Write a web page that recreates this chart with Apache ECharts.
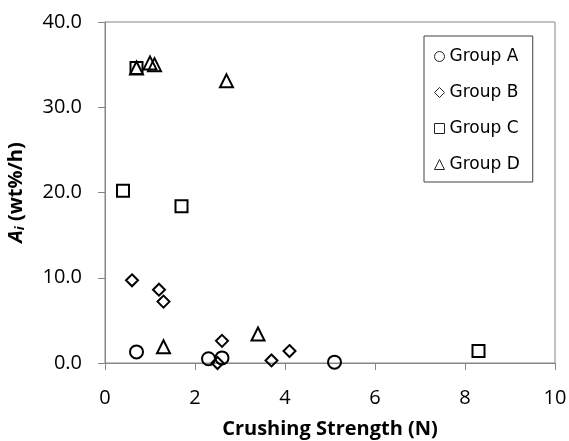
<!DOCTYPE html>
<html>
<head>
<meta charset="utf-8">
<script src="https://cdn.jsdelivr.net/npm/echarts@6/dist/echarts.min.js"></script>
<style>
  html, body { margin: 0; padding: 0; background: #fff; }
  #chart { width: 569px; height: 441px; }
</style>
</head>
<body>
<div id="chart"></div>
<script>
// Crushing strength (N) vs. A_i (wt%/h) for four sample groups
const groupNames = ['Group A', 'Group B', 'Group C', 'Group D'];
const groupSymbols = ['circle', 'diamond', 'rect', 'triangle'];

const groupA = [[0.7, 1.3], [2.3, 0.5], [2.6, 0.6], [5.1, 0.1]];
const groupB = [[0.6, 9.7], [1.2, 8.6], [1.3, 7.2], [2.6, 2.6], [2.5, 0.0], [3.7, 0.3], [4.1, 1.4]];
const groupC = [[0.4, 20.2], [1.7, 18.4], [0.7, 34.6], [8.3, 1.4]];
const groupD = [[0.7, 34.6], [1.0, 35.2], [1.1, 35.0], [2.7, 33.1], [1.3, 1.9], [3.4, 3.4]];

const xTicks = [0, 2, 4, 6, 8, 10];
const yTicks = [0, 10, 20, 30, 40];

const groupData = [groupA, groupB, groupC, groupD];
const symbolSizes = [13, 12, 12, 13];

const axisGray = '#868686';
const labelFont = 'Open Sans';

const chart = echarts.init(document.getElementById('chart'), null, { renderer: 'canvas' });

chart.setOption({
  animation: false,
  backgroundColor: '#ffffff',
  grid: {
    left: 105, right: 14, top: 22, bottom: 78,
    containLabel: false,
    outerBoundsMode: 'none',
    show: true, borderColor: axisGray, borderWidth: 1, backgroundColor: 'transparent'
  },
  legend: {
    orient: 'vertical',
    left: 424, top: 36,
    padding: [12, 13, 9, 10],
    itemGap: 19,
    itemWidth: 10, itemHeight: 10,
    itemTextGap: 9,
    borderColor: '#404040', borderWidth: 1,
    backgroundColor: '#fff',
    itemStyle: { color: 'transparent', borderColor: '#222', borderWidth: 1 },
    textStyle: { fontFamily: 'DejaVu Sans', fontSize: 17, color: '#000', lineHeight: 17 },
    data: groupNames.map((n, i) => ({ name: n, icon: groupSymbols[i] }))
  },
  xAxis: {
    type: 'value',
    min: xTicks[0], max: xTicks[xTicks.length - 1], interval: 2,
    name: 'Crushing Strength (N)',
    nameLocation: 'middle', nameGap: 56,
    nameTextStyle: { fontFamily: labelFont, fontWeight: 'bold', fontSize: 20, color: '#000' },
    axisLine: { show: true, lineStyle: { color: axisGray, width: 1 } },
    axisTick: { show: true, inside: false, length: 7, lineStyle: { color: axisGray } },
    axisLabel: { margin: 25, fontFamily: labelFont, fontSize: 20, color: '#000' },
    splitLine: { show: false }
  },
  yAxis: {
    type: 'value',
    min: yTicks[0], max: yTicks[yTicks.length - 1], interval: 10,
    name: '{a|A}{s|i}{t| (wt%/h)}',
    nameLocation: 'middle', nameGap: 78, nameRotate: 90,
    nameTextStyle: {
      color: '#000',
      rich: {
        a: { fontFamily: labelFont, fontWeight: 'bold', fontStyle: 'italic', fontSize: 20, color: '#000' },
        s: { fontFamily: labelFont, fontWeight: 'bold', fontStyle: 'italic', fontSize: 13, color: '#000', verticalAlign: 'bottom', padding: [9, 0, 0, 0] },
        t: { fontFamily: labelFont, fontWeight: 'bold', fontSize: 20, color: '#000' }
      }
    },
    axisLine: { show: true, lineStyle: { color: axisGray, width: 1 } },
    axisTick: { show: true, inside: false, length: 7, lineStyle: { color: axisGray } },
    axisLabel: { margin: 23, fontFamily: labelFont, fontSize: 20, color: '#000', formatter: v => v.toFixed(1) },
    splitLine: { show: false }
  },
  series: groupNames.map((n, i) => ({
    name: n,
    type: 'scatter',
    clip: false,
    symbol: groupSymbols[i],
    symbolSize: symbolSizes[i],
    data: groupData[i],
    itemStyle: { color: 'transparent', borderColor: '#000', borderWidth: 2, opacity: 1 },
    emphasis: { disabled: true }
  }))
});
</script>
</body>
</html>
